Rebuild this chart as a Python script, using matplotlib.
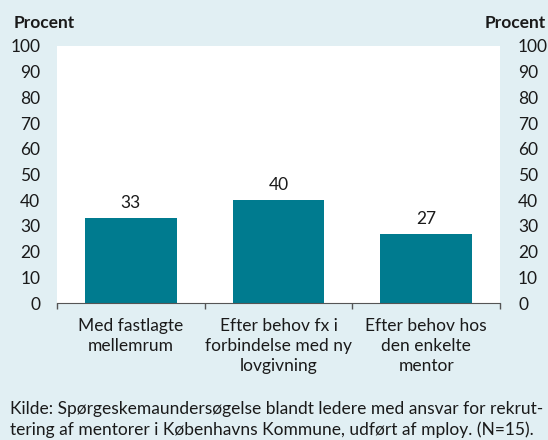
import matplotlib.pyplot as plt
import numpy as np

categories = ["Med fastlagte\nmellemrum",
              "Efter behov fx i\nforbindelse med ny\nlovgivning",
              "Efter behov hos\nden enkelte\nmentor"]
values = [33, 40, 27]
yticks = list(range(0, 101, 10))

BG = "#e1eff3"
TEAL = "#007b8f"
TXT = "#1a1a1a"
FS = 12.5

plt.rcParams["font.family"] = ["Lato", "DejaVu Sans"]

W, H = 548, 440
fig = plt.figure(figsize=(W / 100, H / 100), dpi=100, facecolor=BG)
ax = fig.add_axes([57 / W, (H - 303) / H, 443 / W, 257 / H])
ax.set_facecolor("white")

x = np.arange(len(values))
ax.bar(x, values, width=0.62, color=TEAL, zorder=2)
for xi, v in zip(x, values):
    ax.annotate(str(v), (xi, v), xytext=(0, 5), textcoords="offset points",
                ha="center", va="bottom", fontsize=FS, color=TXT)

ax.set_xlim(-0.5, len(values) - 0.5)
ax.set_ylim(0, 100)
ax.set_yticks(yticks)
ax.tick_params(axis="y", length=0, pad=12, labelsize=FS, labelcolor=TXT)
ax.set_xticks(x)
ax.set_xticklabels(categories, fontsize=FS, color=TXT, linespacing=1.3, va="top")
ax.tick_params(axis="x", which="major", length=0, pad=11)
ax.set_xticks(np.arange(-0.5, len(values), 1.0), minor=True)
ax.tick_params(axis="x", which="minor", length=4, width=1, color="#555555")
for s in ["top", "left", "right"]:
    ax.spines[s].set_visible(False)
ax.spines["bottom"].set_color("#555555")

ax2 = ax.twinx()
ax2.set_ylim(0, 100)
ax2.set_yticks(yticks)
ax2.tick_params(axis="y", length=0, pad=13, labelsize=FS, labelcolor=TXT)
for s in ax2.spines.values():
    s.set_visible(False)

fig.text(14 / W, 1 - 28 / H, "Procent", fontsize=FS, fontweight="bold",
         color=TXT, ha="left", va="baseline")
fig.text(546 / W, 1 - 28 / H, "Procent", fontsize=FS, fontweight="bold",
         color=TXT, ha="right", va="baseline")

fig.text(10 / W, 1 - 401 / H,
         "Kilde: Spørgeskemaundersøgelse blandt ledere med ansvar for rekrut-\n"
         "tering af mentorer i Københavns Kommune, udført af mploy. (N=15).",
         fontsize=FS, color=TXT, ha="left", va="top", linespacing=1.35)

fig.savefig("out.png", dpi=100, facecolor=BG)
